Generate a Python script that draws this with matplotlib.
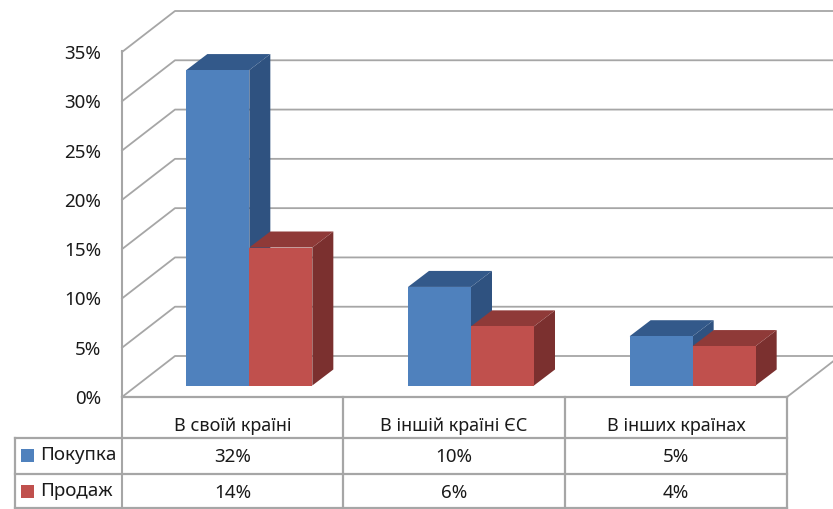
import matplotlib
matplotlib.use("Agg")
import matplotlib.pyplot as plt
from matplotlib.patches import Polygon, Rectangle
from matplotlib.lines import Line2D

plt.rcParams['font.family'] = ['Noto Sans', 'DejaVu Sans']

categories = ['В своїй країні', 'В іншій країні ЄС', 'В інших країнах']
series_names = ['Покупка', 'Продаж']
pokupka = [32, 10, 5]
prodazh = [14, 6, 4]
yticks = [0, 5, 10, 15, 20, 25, 30, 35]

W, H = 833, 509
GREY = '#a6a6a6'
TXT = '#1a1a1a'
FS = 13.5

fig = plt.figure(figsize=(W / 100, H / 100), dpi=100)
ax = fig.add_axes([122 / W, (H - 397) / H, 665 / W, 345 / H])
ax.set_xlim(0, 3)
ax.set_ylim(0, 35)
ax.patch.set_alpha(0)

# pixel sizes expressed in data units
ux = 3 / 665
uy = 35 / 345
wall_dx, wall_dy = 53 * ux, 41 * uy
base_dx, base_dy = 16.5 * ux, 11.5 * uy
bar_w = 63 * ux
depth_dx, depth_dy = 21 * ux, 16 * uy


# pixel coords -> figure fraction, for the table part
def fx(p):
    return p / W


def fy(p):
    return 1 - p / H


# walls and gridlines
for t in yticks:
    ax.plot([0, wall_dx, 3 + wall_dx], [t, t + wall_dy, t + wall_dy],
            color=GREY, lw=1.3, clip_on=False, zorder=1)
ax.plot([3, 3 + wall_dx], [0, wall_dy], color=GREY, lw=1.3, clip_on=False, zorder=1)


def draw_bar(x0, val, front, top, side):
    y0 = base_dy
    y1 = base_dy + val
    x1 = x0 + bar_w
    ax.add_patch(Polygon([(x1, y0), (x1 + depth_dx, y0 + depth_dy), (x1 + depth_dx, y1 + depth_dy), (x1, y1)],
                         fc=side, ec='none', clip_on=False, zorder=3))
    ax.add_patch(Polygon([(x0, y1), (x0 + depth_dx, y1 + depth_dy), (x1 + depth_dx, y1 + depth_dy), (x1, y1)],
                         fc=top, ec='none', clip_on=False, zorder=3))
    ax.add_patch(Polygon([(x0, y0), (x1, y0), (x1, y1), (x0, y1)],
                         fc=front, ec='none', clip_on=False, zorder=3))


for i in range(len(categories)):
    left = i + 0.5 - bar_w + base_dx
    draw_bar(left, pokupka[i], '#4f81bd', '#33598a', '#2f5280')
    draw_bar(left + bar_w, prodazh[i], '#c0504d', '#8f3a38', '#7b302f')

ax.set_xticks([])
ax.set_yticks(yticks)
ax.set_yticklabels(['%d%%' % t for t in yticks], fontsize=FS, color=TXT)
ax.tick_params(axis='y', length=0, pad=15)
for s in ['top', 'right', 'bottom', 'left']:
    ax.spines[s].set_visible(False)

# table under the chart
col_x = [122, 343, 565, 787]
tbl = [
    ([122, 787], [397, 397]), ([15, 787], [438, 438]), ([15, 787], [474, 474]), ([15, 787], [508, 508]),
    ([15, 15], [438, 509]),
]
for px_x, px_y in tbl:
    fig.add_artist(Line2D([fx(p) for p in px_x], [fy(p) for p in px_y], color=GREY, lw=1.6))
fig.add_artist(Line2D([fx(122), fx(122)], [fy(51), fy(509)], color=GREY, lw=1.5))
for x in col_x[1:]:
    fig.add_artist(Line2D([fx(x), fx(x)], [fy(397), fy(509)], color=GREY, lw=1.6))

for i, cat in enumerate(categories):
    cx = (col_x[i] + col_x[i + 1]) / 2
    fig.text(fx(cx), fy(426), cat, ha='center', va='center', fontsize=13, color=TXT)
    fig.text(fx(cx), fy(456.5), '%d%%' % pokupka[i], ha='center', va='center', fontsize=FS, color=TXT)
    fig.text(fx(cx), fy(492.5), '%d%%' % prodazh[i], ha='center', va='center', fontsize=FS, color=TXT)

for name, c, yc in zip(series_names, ['#4f81bd', '#c0504d'], [455.5, 491]):
    fig.add_artist(Rectangle((fx(21), fy(yc + 6.5)), 13 / W, 13 / H, fc=c, ec='none',
                             transform=fig.transFigure))
    fig.text(fx(40), fy(yc), name, ha='left', va='center', fontsize=FS, color=TXT)

fig.savefig('out.png', dpi=100)
